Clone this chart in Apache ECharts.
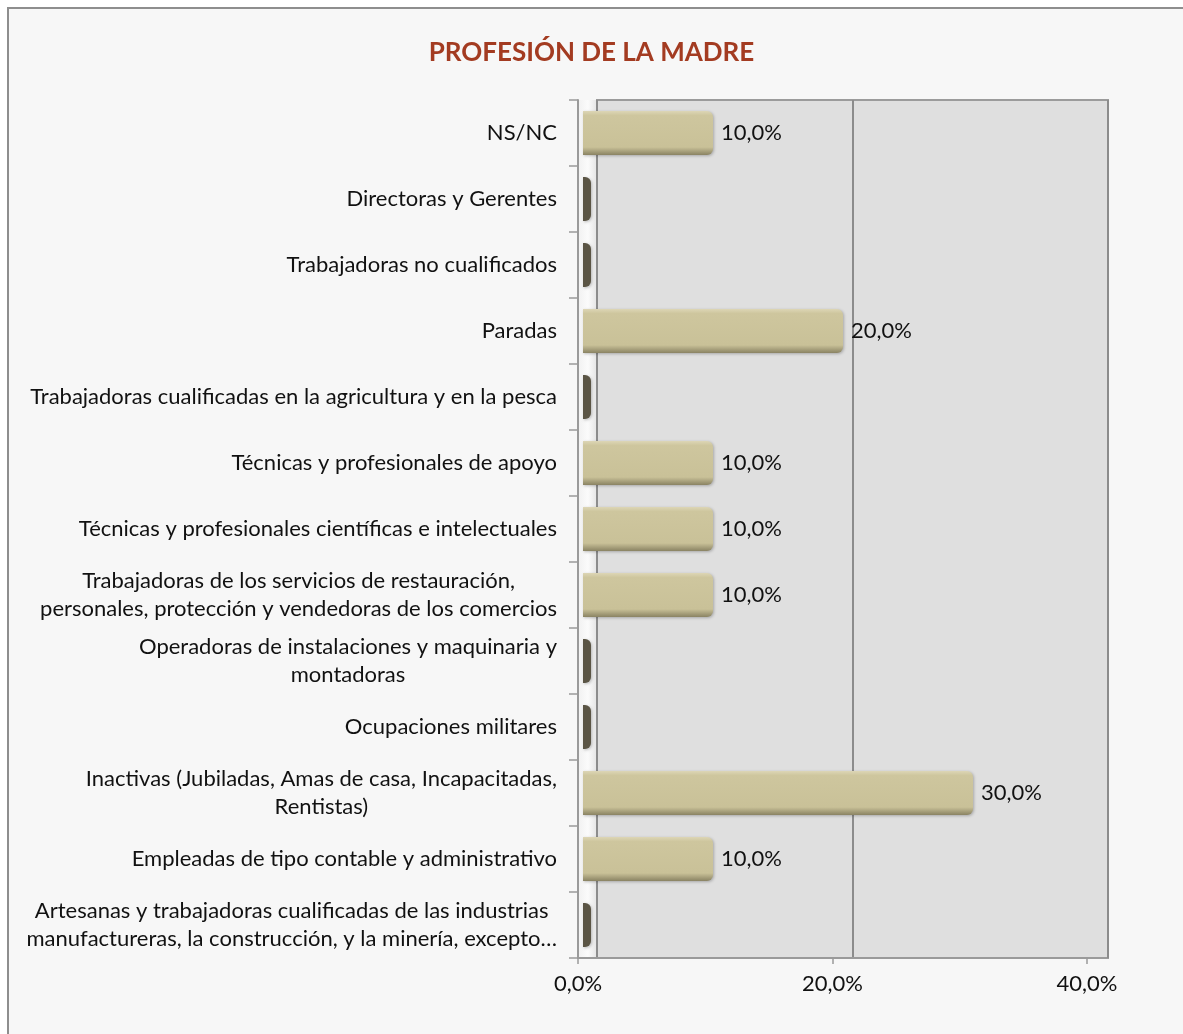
<!DOCTYPE html>
<html>
<head>
<meta charset="utf-8">
<script src="https://cdn.jsdelivr.net/npm/echarts@6/dist/echarts.min.js"></script>
<style>
  html, body { margin: 0; padding: 0; background: #ffffff; }
  #chart { width: 1183px; height: 1034px; }
</style>
</head>
<body>
<div id="chart"></div>
<script>
// categorías (de arriba a abajo)
const categorias = [
  'NS/NC',
  'Directoras y Gerentes',
  'Trabajadoras no cualificados',
  'Paradas',
  'Trabajadoras cualificadas en la agricultura y en la pesca',
  'Técnicas y profesionales de apoyo',
  'Técnicas y profesionales científicas e intelectuales',
  'Trabajadoras de los servicios de restauración,\npersonales, protección y vendedoras de los comercios',
  'Operadoras de instalaciones y maquinaria y\nmontadoras',
  'Ocupaciones militares',
  'Inactivas (Jubiladas, Amas de casa, Incapacitadas,\nRentistas)',
  'Empleadas de tipo contable y administrativo',
  'Artesanas y trabajadoras cualificadas de las industrias\nmanufactureras, la construcción, y la minería, excepto…'
];

// porcentajes
const porcentajes = [10, 0, 0, 20, 0, 10, 10, 10, 0, 0, 30, 10, 0];

const ejeMin = 0;
const ejeMax = 40;
const ejeIntervalo = 20;

const fuente = 'Lato, "Open Sans", sans-serif';
const fmtPct = v => v.toFixed(1).replace('.', ',') + '%';

const chart = echarts.init(document.getElementById('chart'), null, { renderer: 'canvas' });

// cara de la barra (efecto 3D aproximado)
const caraBarra = new echarts.graphic.LinearGradient(0, 0, 0, 1, [
  { offset: 0, color: '#ddd6b6' },
  { offset: 0.1, color: '#cec69e' },
  { offset: 0.82, color: '#c9c198' },
  { offset: 1, color: '#8a8363' }
]);

const option = {
  backgroundColor: '#ffffff',
  animation: false,
  title: {
    text: 'PROFESIÓN DE LA MADRE',
    left: 'center',
    top: 35,
    textStyle: {
      fontFamily: fuente,
      fontSize: 26,
      fontWeight: 'bold',
      color: '#a33b21'
    }
  },
  graphic: [
    {
      type: 'rect',
      z: -10,
      silent: true,
      shape: { x: 8, y: 8, width: 1190, height: 1040 },
      style: { fill: '#f7f7f7', stroke: '#8e8e8e', lineWidth: 2 }
    },
    {
      // pared lateral izquierda
      type: 'rect',
      z: 0,
      silent: true,
      shape: { x: 579, y: 100, width: 18, height: 858 },
      style: {
        fill: new echarts.graphic.LinearGradient(0, 0, 1, 0, [
          { offset: 0, color: '#f2f2f2' },
          { offset: 0.5, color: '#fbfbfb' },
          { offset: 1, color: '#e4e4e4' }
        ])
      }
    }
  ],
  grid: [
    // pared del fondo
    { left: 597, right: 75, top: 100, bottom: 76, show: true, backgroundColor: '#dfdfdf', borderColor: '#9b9b9b', borderWidth: 2, z: -1 },
    // ejes delanteros
    { left: 578, right: 96, top: 100, bottom: 76 },
    // barras
    { left: 583, width: 520, top: 100, bottom: 76 }
  ],
  xAxis: [
    {
      gridIndex: 0, type: 'value', min: ejeMin, max: ejeMax, interval: ejeIntervalo,
      axisLine: { show: false }, axisTick: { show: false }, axisLabel: { show: false },
      splitLine: { show: true, lineStyle: { color: '#8c8c8c', width: 2 } }
    },
    {
      gridIndex: 1, type: 'value', min: ejeMin, max: ejeMax, interval: ejeIntervalo,
      axisLine: { show: true, lineStyle: { color: '#9a9a9a', width: 2 } },
      axisTick: { show: true, length: 6, lineStyle: { color: '#9a9a9a', width: 1.5 } },
      axisLabel: { fontFamily: fuente, fontSize: 22, color: '#111', margin: 15, formatter: v => fmtPct(v) },
      splitLine: { show: false }
    },
    {
      gridIndex: 2, type: 'value', min: ejeMin, max: ejeMax, show: false
    }
  ],
  yAxis: [
    { gridIndex: 0, type: 'category', inverse: true, data: categorias, show: false },
    {
      gridIndex: 1, type: 'category', inverse: true, data: categorias,
      axisLine: { show: true, lineStyle: { color: '#9a9a9a', width: 2 } },
      axisTick: { show: true, length: 9, lineStyle: { color: '#9a9a9a', width: 1.5 } },
      axisLabel: {
        margin: 21,
        align: 'right',
        interval: 0,
        formatter: v => v.split('\n').map(s => '{c|' + s + '}').join('\n'),
        rich: {
          c: { align: 'center', fontFamily: fuente, fontSize: 22, lineHeight: 28, color: '#111' }
        }
      }
    },
    { gridIndex: 2, type: 'category', inverse: true, data: categorias, show: false }
  ],
  series: [
    {
      type: 'bar',
      xAxisIndex: 2,
      yAxisIndex: 2,
      data: porcentajes,
      barWidth: 44,
      barMinHeight: 8,
      itemStyle: {
        color: p => (p.value > 0 ? caraBarra : '#5b5545'),
        borderRadius: [0, 6, 6, 0],
        shadowColor: 'rgba(0,0,0,0.25)',
        shadowBlur: 3,
        shadowOffsetX: 1,
        shadowOffsetY: 1
      },
      label: {
        show: true,
        position: 'right',
        distance: 8,
        fontFamily: fuente,
        fontSize: 22,
        color: '#111',
        formatter: p => (p.value > 0 ? fmtPct(p.value) : '')
      }
    }
  ]
};

chart.setOption(option);
</script>
</body>
</html>
